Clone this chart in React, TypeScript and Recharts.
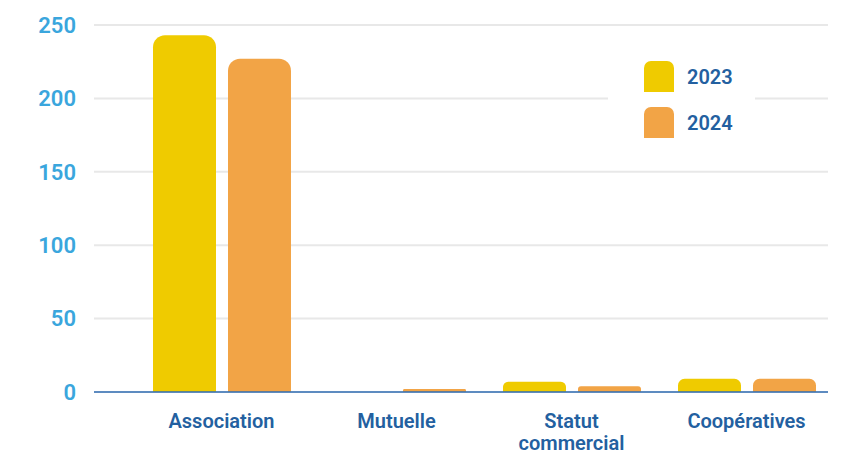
import React from "react"
import { BarChart, Bar, XAxis, YAxis, CartesianGrid, Legend } from "recharts"

const categories = ["Association", "Mutuelle", "Statut commercial", "Coopératives"]
const values2023 = [243, 0, 7, 9]
const values2024 = [227, 2, 4, 9]
const yTicks = [0, 50, 100, 150, 200, 250]

const YELLOW = "#EFCB00"
const ORANGE = "#F2A446"
const DARK_BLUE = "#2360A0"
const LIGHT_BLUE = "#3AA6DD"

const data = categories.map((name, i) => ({
  name,
  y2023: values2023[i],
  y2024: values2024[i],
}))

// Category labels, long ones broken onto one word per line
const CategoryTick = ({ x, y, payload }: any) => {
  const label: string = payload.value
  const lines = label.length > 13 ? label.split(" ") : [label]
  return (
    <text x={x} y={y} textAnchor="middle" fill={DARK_BLUE} fontSize={20} fontWeight={600}>
      {lines.map((line, i) => (
        <tspan key={i} x={x} dy={i === 0 ? "0.71em" : 22}>
          {line}
        </tspan>
      ))}
    </text>
  )
}

const LegendBox = ({ payload }: any) => (
  <div style={{ background: "#fff", padding: "11px 0 4px 36px" }}>
    {(payload || []).map((item: any) => (
      <div key={item.value} style={{ display: "flex", alignItems: "center", height: 31, marginBottom: 15 }}>
        <div
          style={{
            width: 30,
            height: 31,
            background: item.color,
            borderRadius: "7px 7px 0 0",
          }}
        />
        <span style={{ marginLeft: 13, color: DARK_BLUE, fontSize: 20, fontWeight: 600 }}>{item.value}</span>
      </div>
    ))}
  </div>
)

export default function App() {
  return (
    <div style={{ position: "absolute", left: 0, top: 0, width: 842, height: 452, overflow: "hidden", background: "#fff", fontFamily: "Roboto, sans-serif" }}>
      <BarChart
        width={842}
        height={452}
        data={data}
        margin={{ top: 25, right: 14, left: 0, bottom: 0 }}
        barGap={12}
        barSize={63}
      >
        <CartesianGrid vertical={false} stroke="#e8e8e8" strokeWidth={2} />
        <XAxis
          dataKey="name"
          height={60}
          tickLine={false}
          tickSize={0}
          tickMargin={22}
          axisLine={{ stroke: "#2f6db3", strokeWidth: 1.5 }}
          padding={{ left: 40, right: -6 }}
          interval={0}
          tick={<CategoryTick />}
        />
        <YAxis
          width={94}
          domain={[0, 250]}
          ticks={yTicks}
          axisLine={false}
          tickLine={false}
          tickSize={0}
          tickMargin={18}
          tick={{ fill: LIGHT_BLUE, fontSize: 22, fontWeight: 600 }}
        />
        <Legend
          layout="horizontal"
          align="center"
          verticalAlign="middle"
          content={<LegendBox />}
          wrapperStyle={{ position: "absolute", left: 608, top: 50, width: 147 }}
        />
        <Bar dataKey="y2023" name="2023" fill={YELLOW} radius={[12, 12, 0, 0]} isAnimationActive={false} />
        <Bar dataKey="y2024" name="2024" fill={ORANGE} radius={[12, 12, 0, 0]} isAnimationActive={false} />
      </BarChart>
    </div>
  )
}
